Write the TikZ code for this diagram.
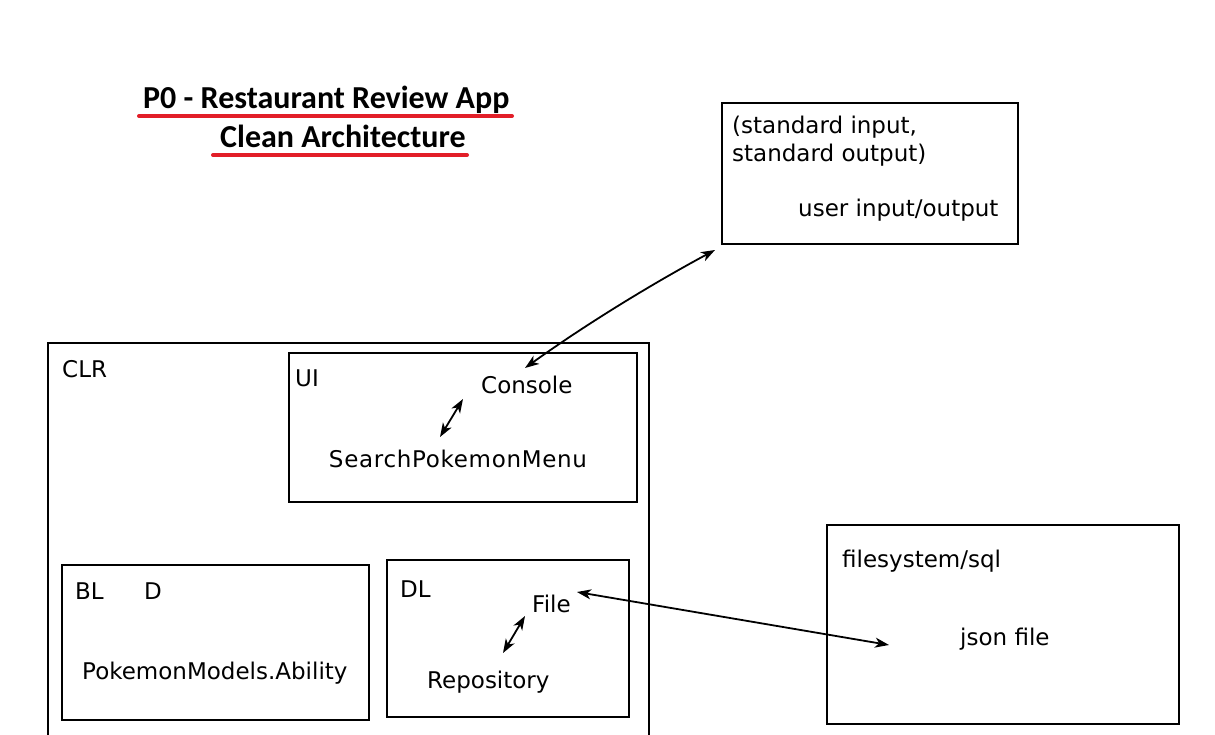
\documentclass[tikz,border=0pt]{standalone}
\usepackage{fontspec}
\setmainfont{DejaVu Sans}
\newfontfamily\titlefont{Carlito}
\usetikzlibrary{arrows.meta}
\definecolor{ulred}{RGB}{226,30,40}
\tikzset{
  box/.style={draw=black, line width=2pt},
  lbl/.style={anchor=base west, inner sep=0pt, font=\fontsize{23}{27}\selectfont},
  ttl/.style={anchor=base west, inner sep=0pt, font=\titlefont\bfseries\fontsize{32}{38}\selectfont},
  uline/.style={draw=ulred, line width=4pt, line cap=round},
  conn/.style={line width=1.8pt, {Stealth[length=14pt,width=10pt,inset=4pt]}-{Stealth[length=14pt,width=10pt,inset=4pt]}},
}
\begin{document}
\begin{tikzpicture}[x=1pt,y=-1pt]
\useasboundingbox[fill=white] (0,0) rectangle (1215,735);
% title
\node[ttl] (t1) at (143,109) {P0 - Restaurant Review App};
\node[ttl] (t2) at (220,148) {Clean Architecture};
\draw[uline] (139,116) -- (512,116);
\draw[uline] (213,155) -- (467,155);
% IO box
\draw[box] (722,103) rectangle (1018,244);
\node[lbl] (std1) at (732,134) {(standard input,};
\node[lbl] (std2) at (732,162) {standard output)};
\node[lbl] (uio) at (798,217) {user input/output};
\coordinate (ioend) at (715,250);
% CLR
\draw[box] (48,735) -- (48,343) -- (649,343) -- (649,735);
\node[lbl] (clr) at (62,377) {CLR};
% UI
\draw[box] (289,353) rectangle (637,502);
\node[lbl] (ui) at (295,386) {UI};
\node[lbl] (console) at (481,393) {Console};
\node[lbl, anchor=base, font=\fontsize{23}{27}\selectfont\addfontfeature{LetterSpace=3}] (menu) at (458,467) {SearchPokemonMenu};
% BL
\draw[box] (62,565) rectangle (369,720);
\node[lbl] (bl) at (75,599) {BL};
\node[lbl] (d) at (144,599) {D};
\node[lbl] (ability) at (82,679) {PokemonModels.Ability};
% DL
\draw[box] (387,560) rectangle (629,717);
\node[lbl] (dl) at (400,597) {DL};
\node[lbl] (file) at (532,612) {File};
\node[lbl] (repo) at (427,688) {Repository};
% filesystem
\draw[box] (827,525) rectangle (1179,724);
\node[lbl] (fs) at (842,567) {filesystem/sql};
\node[lbl] (json) at (960,645) {json file};
% connectors
\coordinate (conA) at (525,368);
\coordinate (menuA) at (440,437);
\coordinate (conB) at (463,399);
\coordinate (repoA) at (503,653);
\coordinate (fileB) at (525,616);
\coordinate (fileC) at (577,592);
\coordinate (jsonA) at (889,645);
\draw[conn] (conA) .. controls (585,325) and (650,285) .. (ioend);
\draw[conn] (menuA) -- (conB);
\draw[conn] (repoA) -- (fileB);
\draw[conn] (fileC) -- (jsonA);
\end{tikzpicture}
\end{document}
